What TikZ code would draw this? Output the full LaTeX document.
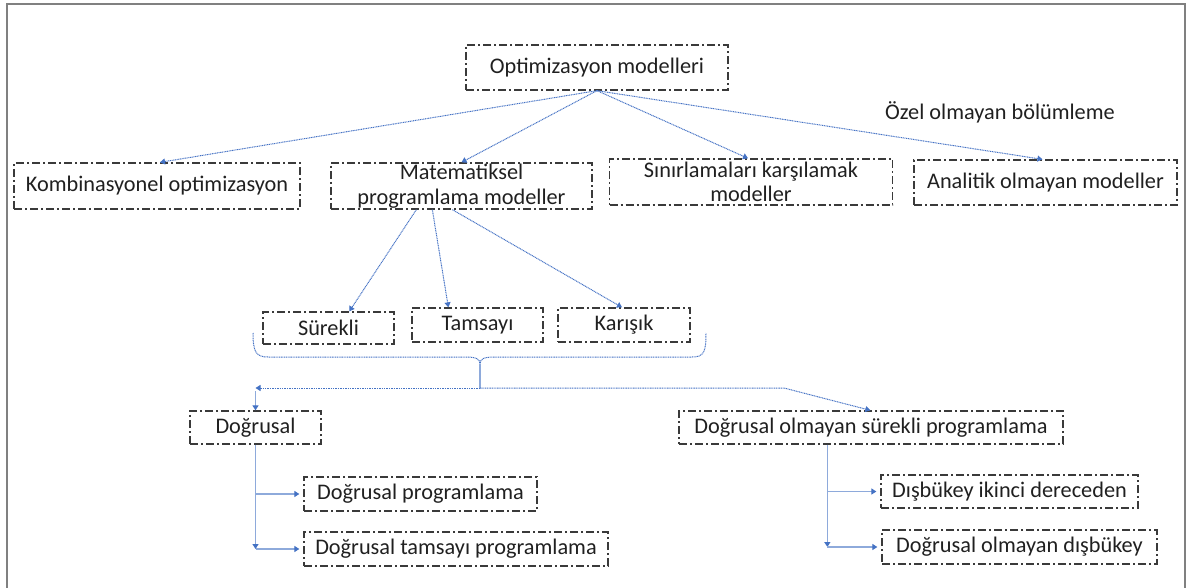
\documentclass[tikz,border=0pt]{standalone}
\usepackage{fontspec}
\setmainfont{Carlito}
\usetikzlibrary{arrows.meta,calc}
\definecolor{boxline}{HTML}{3A3A3A}
\definecolor{linkblue}{HTML}{4472C4}
\definecolor{lightlink}{HTML}{8EAADB}
\definecolor{framegray}{HTML}{808080}
\definecolor{ink}{HTML}{202020}
\begin{document}
\begin{tikzpicture}[x=1pt,y=-1pt,
  box/.style={draw=boxline, line width=1.3pt,
    dash pattern=on 8pt off 3pt on 2pt off 3pt,
    text=ink, font=\fontsize{22.3}{24.5}\selectfont, inner sep=0pt, align=center},
  dotlink/.style={draw=linkblue, line width=1pt, dash pattern=on 1pt off 0.7pt},
  solidlink/.style={draw=lightlink, line width=1.4pt},
  tip/.style={-{Triangle[width=6pt,length=5pt,color=linkblue]}},
  gap/.style={shorten >=4pt}
]
\useasboundingbox (0,0) rectangle (1192,588);
\clip (0,0) rectangle (1192,588);

% outer frame
\draw[framegray, line width=2pt] (6.5,4.5) rectangle (1184.5,600);

% boxes
\node[box, minimum width=262pt, minimum height=45pt] (opt) at (597,67.5) {Optimizasyon modelleri};
\node[box, minimum width=286pt, minimum height=46pt] (komb) at (157,186) {Kombinasyonel optimizasyon};
\node[box, minimum width=261pt, minimum height=46pt] (mat) at (461.5,186) {Matematiksel\\programlama modeller};
\node[box, minimum width=283pt, minimum height=46pt] (sin) at (751,182) {Sınırlamaları karşılamak\\modeller};
\node[box, minimum width=263pt, minimum height=45pt] (ana) at (1045.5,182.5) {Analitik olmayan modeller};
\node[text=ink, font=\fontsize{22.3}{24.5}\selectfont] (ozel) at (1000,112) {Özel olmayan bölümleme};

\node[box, minimum width=131pt, minimum height=32pt] (sur) at (328.5,328) {Sürekli};
\node[box, minimum width=131pt, minimum height=34pt] (tam) at (477.5,325) {Tamsayı};
\node[box, minimum width=132pt, minimum height=34pt] (kar) at (624,325) {Karışık};

\node[box, minimum width=131pt, minimum height=33pt] (dog) at (255.5,427.5) {Doğrusal};
\node[box, minimum width=233pt, minimum height=34pt] (dp) at (420.5,494) {Doğrusal programlama};
\node[box, minimum width=304pt, minimum height=34pt] (dtp) at (456,549) {Doğrusal tamsayı programlama};

\node[box, minimum width=384pt, minimum height=33pt] (nls) at (871,427.5) {Doğrusal olmayan sürekli programlama};
\node[box, minimum width=257pt, minimum height=33pt] (dik) at (1009.5,491.5) {Dışbükey ikinci dereceden};
\node[box, minimum width=275pt, minimum height=34pt] (dod) at (1019.5,547) {Doğrusal olmayan dışbükey};

% first level
\draw[dotlink, tip] (opt.south) -- ($(komb.north)+(3,0)$);
\draw[dotlink, tip] (opt.south) -- (mat.north);
\draw[dotlink, tip] (opt.south) -- ($(sin.north)+(-3,0)$);
\draw[dotlink, tip] (opt.south) -- ($(ana.north)+(-3,0)$);

% mathematical programming variants
\draw[dotlink, tip] ($(mat.south west)+(86,0)$) -- ($(sur.north west)+(87,0)$);
\draw[dotlink, tip] ($(mat.south west)+(102,0)$) -- ($(tam.north west)+(37,0)$);
\draw[dotlink, tip] ($(mat.south west)+(122,0)$) -- ($(kar.north)+(-2,0)$);

% brace under the three variants
\draw[dotlink] (253,333) .. controls (253,352) and (256,357) .. (268,357)
  -- (466,357) .. controls (476,357) and (480,359) .. (480,364)
  .. controls (480,359) and (484,357) .. (494,357)
  -- (692,357) .. controls (704,357) and (706,352) .. (706,333);
\coordinate (bt) at (480,364);
\coordinate (jn) at (480,388);
\coordinate (lc) at (dog.north |- jn);
\coordinate (rb) at (784,388);
\draw[solidlink] (bt) -- (jn);
\draw[dotlink, tip] (jn) -- (lc);
\draw[dotlink, tip] (jn) -- (rb) -- ($(nls.north west)+(192,0)$);
\draw[solidlink, tip] ($(lc)+(0,3)$) -- (dog.north);

% linear branch
\draw[solidlink, tip] (dog.south) -- (dog.south |- dtp.west);
\draw[solidlink, tip, gap] (dog.south |- dp.west) -- (dp.west);
\draw[solidlink, tip, gap] (dog.south |- dtp.west) -- (dtp.west);

% nonlinear branch
\coordinate (nv) at ($(nls.south west)+(149,0)$);
\draw[solidlink, tip] (nv) -- (nv |- dod.west);
\draw[solidlink, tip, gap] (nv |- dik.west) -- (dik.west);
\draw[solidlink, tip, gap] (nv |- dod.west) -- (dod.west);
\end{tikzpicture}
\end{document}
